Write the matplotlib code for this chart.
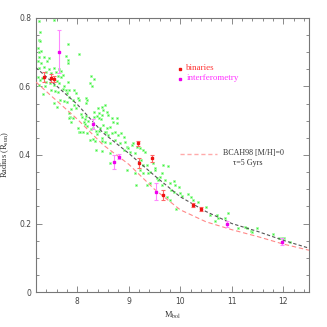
import matplotlib
matplotlib.use("Agg")
import matplotlib.pyplot as plt
from matplotlib.ticker import MultipleLocator

plt.rcParams["mathtext.fontset"] = "stix"

# ---- data ----
# model isochrones (BCAH98)
model_m = [7.2, 7.5, 8.0, 8.5, 9.0, 9.5, 10.0, 10.5, 11.0, 11.5, 12.0, 12.5]
model_r_black = [0.655, 0.615, 0.548, 0.465, 0.405, 0.340, 0.278, 0.235, 0.200, 0.177, 0.151, 0.128]
model_r_pink = [0.613, 0.572, 0.505, 0.430, 0.373, 0.300, 0.240, 0.205, 0.182, 0.162, 0.140, 0.122]

# binaries
bin_m = [7.36, 7.49, 7.55, 9.18, 9.20, 9.45, 9.67, 10.25, 10.40]
bin_r = [0.628, 0.625, 0.622, 0.434, 0.377, 0.391, 0.283, 0.254, 0.242]
bin_e = [0.015, 0.012, 0.010, 0.008, 0.015, 0.010, 0.015, 0.005, 0.005]

# interferometry
int_m = [7.65, 8.30, 8.72, 8.81, 9.53, 10.90, 11.97]
int_r = [0.702, 0.490, 0.380, 0.395, 0.293, 0.199, 0.147]
int_e = [0.062, 0.015, 0.020, 0.008, 0.024, 0.008, 0.010]

# field stars
star_m = [7.26, 7.55, 7.28, 7.25, 7.28, 7.82, 7.23, 7.25, 7.30, 8.04, 7.78, 7.82, 7.83,
          7.25, 7.36, 7.46, 7.23, 7.29, 7.42, 7.26, 7.35, 7.45, 7.55, 7.64, 7.39, 7.49,
          7.59, 7.69, 7.72, 7.23, 7.32, 7.62, 7.69, 8.27, 8.33, 7.28, 7.40, 7.48, 7.60,
          7.65, 7.83, 7.26, 7.38, 7.55, 7.74, 8.25, 8.29, 7.33, 7.50, 7.56, 7.62, 7.72,
          7.78, 7.81, 7.84, 7.94, 7.98, 7.66, 7.75, 7.81, 7.91, 7.85, 8.01, 8.04, 7.94,
          7.98, 8.17, 8.20, 8.17, 7.55, 7.60, 7.88, 7.85, 7.86, 7.92, 8.07, 8.10, 8.15,
          8.13, 8.18, 8.21, 8.16, 8.19, 8.33, 8.40, 8.43, 8.33, 8.39, 8.43, 8.47, 8.26,
          8.30, 8.36, 8.39, 8.42, 8.45, 8.24, 8.30, 8.34, 8.48, 7.85, 7.88, 8.01, 8.04,
          8.36, 8.48, 8.56, 8.05, 8.12, 8.20,
          8.48, 8.54, 8.51, 8.57, 8.49, 8.60, 8.67, 8.77, 8.70, 8.77, 8.51, 8.57, 8.64,
          8.54, 8.60, 8.67, 8.73, 8.80, 8.86, 8.90, 8.48, 8.54, 8.64, 8.73, 8.83, 8.93,
          8.96, 9.06, 9.09, 9.16, 9.22, 8.90, 9.03, 9.28, 9.12, 8.64, 8.99, 8.64, 8.96,
          9.32, 9.24, 9.28, 9.35, 9.41, 9.38, 9.51, 9.54, 9.61, 9.57, 9.66, 9.77, 9.48,
          9.51, 9.22, 9.28, 9.12, 9.35, 9.15, 9.41, 9.64, 9.70, 9.64, 9.80, 9.87, 9.89,
          9.98, 9.83, 9.87, 9.99, 10.03, 10.15, 10.21, 10.34, 10.25, 10.51, 10.71, 9.74,
          9.80, 9.92, 10.57, 10.68, 10.74, 10.87, 10.93, 11.13, 11.25, 11.29, 11.37,
          11.40, 11.49, 11.81, 11.92, 11.97, 12.01, 12.13]
star_r = [0.792, 0.793, 0.759, 0.737, 0.732, 0.724, 0.712, 0.700, 0.703, 0.695, 0.689, 0.678, 0.669,
          0.685, 0.685, 0.682, 0.675, 0.670, 0.673, 0.655, 0.657, 0.652, 0.655, 0.650, 0.642, 0.638,
          0.643, 0.645, 0.635, 0.628, 0.626, 0.630, 0.627, 0.631, 0.623, 0.620, 0.613, 0.611, 0.615,
          0.610, 0.613, 0.604, 0.602, 0.603, 0.600, 0.610, 0.600, 0.577, 0.590, 0.588, 0.583, 0.592,
          0.589, 0.581, 0.590, 0.590, 0.580, 0.562, 0.558, 0.556, 0.561, 0.568, 0.566, 0.562, 0.546,
          0.536, 0.565, 0.560, 0.551, 0.552, 0.540, 0.534, 0.522, 0.511, 0.508, 0.521, 0.512, 0.505,
          0.495, 0.515, 0.500, 0.490, 0.486, 0.526, 0.536, 0.522, 0.511, 0.514, 0.508, 0.505, 0.475,
          0.480, 0.470, 0.460, 0.470, 0.480, 0.445, 0.448, 0.440, 0.442, 0.507, 0.497, 0.478, 0.468,
          0.415, 0.412, 0.468, 0.467, 0.466, 0.465,
          0.541, 0.546, 0.531, 0.526, 0.518, 0.517, 0.507, 0.507, 0.497, 0.493, 0.488, 0.478, 0.483,
          0.468, 0.458, 0.463, 0.468, 0.458, 0.463, 0.453, 0.449, 0.439, 0.434, 0.444, 0.434, 0.439,
          0.424, 0.429, 0.434, 0.424, 0.419, 0.415, 0.410, 0.415, 0.405, 0.405, 0.420, 0.376, 0.356,
          0.410, 0.385, 0.371, 0.371, 0.351, 0.346, 0.356, 0.332, 0.337, 0.327, 0.371, 0.368, 0.376,
          0.361, 0.356, 0.346, 0.346, 0.312, 0.312, 0.317, 0.312, 0.327, 0.346, 0.317, 0.325, 0.312,
          0.307, 0.298, 0.293, 0.288, 0.280, 0.286, 0.276, 0.264, 0.269, 0.249, 0.226, 0.278,
          0.269, 0.241, 0.225, 0.207, 0.215, 0.215, 0.230, 0.187, 0.190, 0.188, 0.179,
          0.175, 0.186, 0.168, 0.158, 0.159, 0.158, 0.146]

x_ticks = [8, 9, 10, 11, 12]
y_ticks = [0, 0.2, 0.4, 0.6, 0.8]
y_tick_labels = ["0", "0.2", "0.4", "0.6", "0.8"]

# ---- figure ----
fig = plt.figure(figsize=(3.27, 3.27), dpi=100)
ax = fig.add_axes([0.110, 0.107, 0.835, 0.838])

ax.scatter(star_m, star_r, marker="s", s=4.5, facecolor="#40ea40",
           edgecolor="#a8ffa8", linewidths=0.5, zorder=2)

ax.plot(model_m, model_r_black, color="#555555", lw=0.8, dashes=(3, 2), zorder=3)
ax.plot(model_m, model_r_pink, color="#ff8888", lw=0.8, dashes=(4, 2.5), zorder=3)

ax.errorbar(bin_m, bin_r, yerr=bin_e, fmt="s", ms=2.0, color="#ee1111",
            ecolor="#ff6666", elinewidth=0.8, capsize=1.5, capthick=0.8, zorder=4)
ax.errorbar(int_m, int_r, yerr=int_e, fmt="s", ms=2.0, color="#ee00ee",
            ecolor="#ff88ff", elinewidth=0.8, capsize=1.5, capthick=0.8, zorder=4)

# legend (manual, as in original)
ax.plot([10.0], [0.651], "s", ms=1.6, color="#ee1111")
ax.text(10.12, 0.653, "binaries", color="#ff3333", fontsize=6.5,
        family="Liberation Serif", va="center", ha="left")
ax.plot([10.0], [0.622], "s", ms=1.6, color="#ee00ee")
ax.text(10.12, 0.624, "interferometry", color="#ff33ff", fontsize=6.5,
        family="Liberation Serif", va="center", ha="left")
ax.plot([10.0, 10.72], [0.403, 0.403], color="#ffaaaa", lw=1.0, dashes=(3, 2))
ax.text(11.43, 0.405, "BCAH98 [M/H]=0", color="#333333", fontsize=5.8,
        family="Liberation Serif", va="center", ha="center")
ax.text(11.31, 0.377, "τ=5 Gyrs", color="#333333", fontsize=5.8,
        family="Liberation Serif", va="center", ha="center")

ax.set_xlim(7.2, 12.5)
ax.set_ylim(0, 0.8)
ax.set_xticks(x_ticks)
ax.set_xticklabels([str(t) for t in x_ticks])
ax.set_yticks(y_ticks)
ax.set_yticklabels(y_tick_labels)
ax.xaxis.set_minor_locator(MultipleLocator(0.2))
ax.yaxis.set_minor_locator(MultipleLocator(0.05))
ax.tick_params(which="both", direction="in", top=True, right=True,
               color="#777777", labelsize=5.5, labelcolor="#444444", width=0.6)
ax.tick_params(which="major", length=4)
ax.tick_params(which="minor", length=2)
for s in ax.spines.values():
    s.set_color("#777777")
    s.set_linewidth(0.8)

ax.set_xlabel("M$_{\\rm bol}$", fontsize=6, color="#333333",
              family="Liberation Serif", labelpad=3)
ax.set_ylabel("Radius (R$_{\\rm sun}$)", fontsize=6, color="#333333",
              family="Liberation Serif", labelpad=6)

fig.savefig("out.png", dpi=100)
